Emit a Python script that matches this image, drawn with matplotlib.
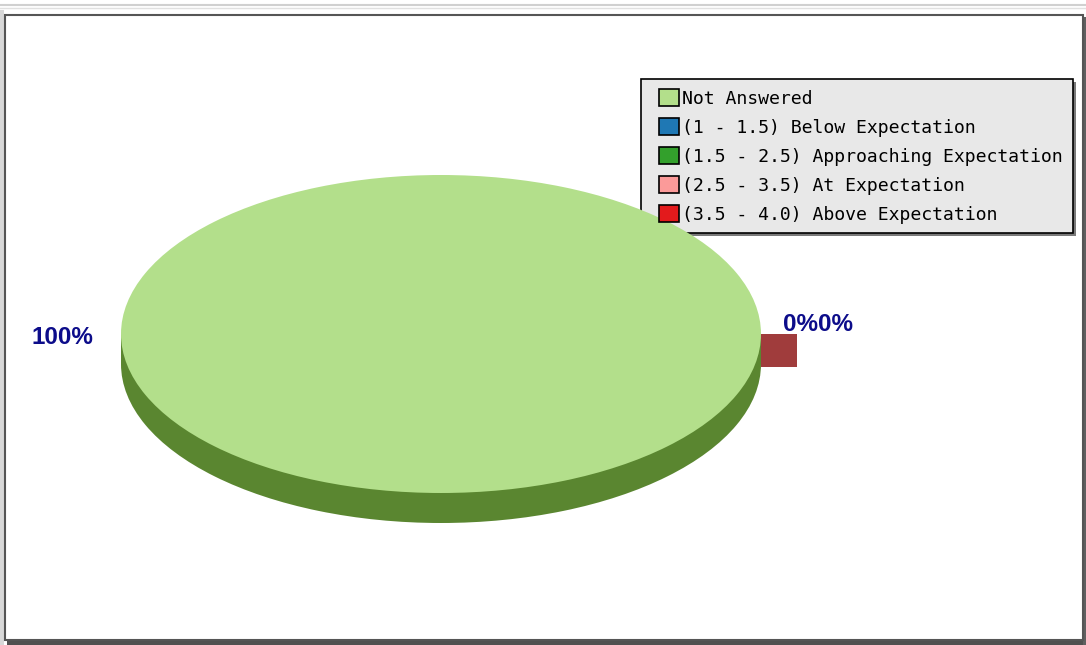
import matplotlib
matplotlib.use("Agg")
import matplotlib.pyplot as plt
from matplotlib.patches import Rectangle, Patch

categories = ["Not Answered", "(1 - 1.5) Below Expectation", "(1.5 - 2.5) Approaching Expectation",
              "(2.5 - 3.5) At Expectation", "(3.5 - 4.0) Above Expectation"]
values = [100, 0, 0, 0, 0]
top_colors = ["#b3df8b", "#1f78b4", "#33a02c", "#fb9a99", "#e31a1c"]
side_colors = ["#5a8630", "#12486c", "#1f601a", "#a05050", "#a03c3c"]
shown_labels = ["100%", "0%", "0%"]

W, H = 1086, 645
fig = plt.figure(figsize=(W / 100, H / 100), dpi=100)
fig.patch.set_facecolor("white")

# background / frame axes in pixel coords
bg = fig.add_axes([0, 0, 1, 1])
bg.set_xlim(0, W)
bg.set_ylim(H, 0)
bg.axis("off")
bg.plot([0, W], [5, 5], color="#d0d0d0", lw=1.5)
bg.plot([0, W], [8, 8], color="#e0e0e0", lw=1)
bg.add_patch(Rectangle((0, 10), 4, H - 10, facecolor="#d8d8d8", edgecolor="none"))
bg.add_patch(Rectangle((7, 641), W - 7, 4, facecolor="#505050", edgecolor="none"))
bg.add_patch(Rectangle((1083, 17), 3, H - 17, facecolor="#606060", edgecolor="none"))
bg.add_patch(Rectangle((4.5, 14.5), 1078, 625, facecolor="white", edgecolor="#555555", lw=1.5))
# legend box with shadow
bg.add_patch(Rectangle((644, 82), 432, 154, facecolor="#7a7a7a", edgecolor="none", zorder=3))
bg.add_patch(Rectangle((641, 79), 432, 154, facecolor="#e8e8e8", edgecolor="black", lw=1.2, zorder=4))

# pie axes: top face ellipse spans x 121..761, y 175..493; depth 30 px
cx0, cx1 = 121, 761
cy_top, cy_bot = 175, 493
depth_px = 30
ry_px = (cy_bot - cy_top) / 2
d = depth_px / ry_px
ax = fig.add_axes([cx0 / W, (H - cy_bot - depth_px) / H, (cx1 - cx0) / W, (cy_bot + depth_px - cy_top) / H])
# side (extruded) part
ax.pie(values, colors=side_colors, startangle=0, counterclock=True, center=(0, -d), radius=1,
       wedgeprops=dict(linewidth=0))
ax.add_patch(Rectangle((-1, -d), 2, d, facecolor=side_colors[0], edgecolor="none"))
wedges, _ = ax.pie(values, colors=top_colors, startangle=0, counterclock=True, center=(0, 0), radius=1,
                   wedgeprops=dict(linewidth=0))
# zero-size slices drawn as a thin extruded block at angle 0
ax.add_patch(Rectangle((1.0, -33 / ry_px), 36 / 320, 33 / ry_px, facecolor=side_colors[4],
                       edgecolor="none", clip_on=False))
ax.set_aspect("auto")
ax.set_xlim(-1, 1)
ax.set_ylim(-1 - d, 1)
ax.axis("off")

# percentage labels
lab_kw = dict(fontsize=17.5, fontweight="bold", color="#0c0c8a", family="Liberation Sans")
ax.text(-1.085, -0.02, shown_labels[0], ha="right", va="center", **lab_kw)
ax.text(1.07, 0.06, "".join(shown_labels[1:]), ha="left", va="center", **lab_kw)

# legend
handles = [Patch(facecolor=c, edgecolor="black", linewidth=1.2) for c in top_colors]
leg = fig.legend(handles, categories, loc="upper left", bbox_to_anchor=(659 / W, 1 - 89 / H),
                 prop=dict(family="DejaVu Sans Mono", size=13.1), frameon=False,
                 handlelength=1.1, handleheight=1.1, handletextpad=0.16, labelspacing=0.55,
                 borderpad=0, borderaxespad=0)
leg.set_zorder(5)

fig.savefig("out.png", dpi=100)
